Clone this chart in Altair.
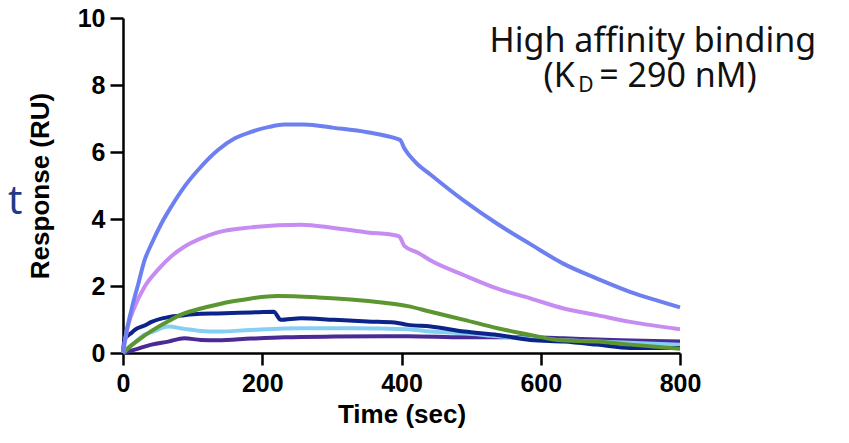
import altair as alt
import pandas as pd

# ---- data (time in sec, response in RU) ----
blue_t = [0, 2, 12, 22, 31, 41, 55, 69, 88, 112, 136, 160, 184, 210, 232, 260, 303, 351, 394, 398, 404, 420, 442, 490, 538, 585, 633, 681, 729, 770, 800]
blue_y = [0, 0.3, 1.28, 2.07, 2.77, 3.26, 3.86, 4.36, 4.96, 5.56, 6.05, 6.40, 6.6, 6.75, 6.82, 6.82, 6.72, 6.59, 6.39, 6.36, 6.11, 5.7, 5.32, 4.54, 3.85, 3.25, 2.66, 2.22, 1.82, 1.55, 1.36]

violet_t = [0, 7, 17, 31, 50, 69, 88, 112, 136, 184, 256, 303, 351, 394, 398, 404, 423, 442, 490, 538, 585, 633, 681, 729, 800]
violet_y = [0, 0.79, 1.39, 1.98, 2.48, 2.88, 3.17, 3.42, 3.6, 3.75, 3.83, 3.73, 3.6, 3.5, 3.45, 3.2, 3.0, 2.76, 2.32, 1.92, 1.63, 1.33, 1.13, 0.93, 0.71]

green_t = [0, 5, 21, 41, 65, 88, 112, 136, 160, 184, 222, 280, 327, 375, 409, 442, 490, 538, 585, 624, 681, 729, 800]
green_y = [0, 0.1, 0.37, 0.66, 0.95, 1.18, 1.33, 1.45, 1.55, 1.63, 1.70, 1.66, 1.60, 1.50, 1.40, 1.23, 0.99, 0.74, 0.54, 0.39, 0.34, 0.25, 0.13]

navy_t = [0, 2, 12, 17, 31, 41, 65, 88, 112, 136, 184, 217, 222, 226, 256, 303, 351, 390, 409, 442, 490, 538, 585, 633, 681, 729, 800]
navy_y = [0, 0.39, 0.6, 0.69, 0.82, 0.93, 1.07, 1.13, 1.17, 1.18, 1.21, 1.23, 1.1, 0.99, 1.04, 0.99, 0.94, 0.91, 0.84, 0.79, 0.64, 0.54, 0.39, 0.34, 0.25, 0.15, 0.15]

lightblue_t = [0, 10, 21, 31, 41, 65, 88, 112, 136, 184, 256, 327, 409, 442, 490, 538, 609, 681, 800]
lightblue_y = [0, 0.2, 0.39, 0.55, 0.62, 0.79, 0.72, 0.66, 0.64, 0.69, 0.74, 0.74, 0.71, 0.64, 0.59, 0.5, 0.4, 0.34, 0.25]

purple_t = [0, 17, 41, 65, 88, 112, 136, 184, 232, 303, 409, 490, 585, 633, 681, 800]
purple_y = [0, 0.1, 0.25, 0.34, 0.44, 0.39, 0.38, 0.43, 0.47, 0.49, 0.5, 0.47, 0.47, 0.44, 0.4, 0.34]

# drawing order: bottom first
series = [
    ("purple", purple_t, purple_y, "#4a2a95"),
    ("lightblue", lightblue_t, lightblue_y, "#86cff2"),
    ("navy", navy_t, navy_y, "#0c2389"),
    ("green", green_t, green_y, "#5c9631"),
    ("violet", violet_t, violet_y, "#c68cf2"),
    ("blue", blue_t, blue_y, "#6e80f0"),
]

x_ticks = [0, 200, 400, 600, 800]
y_ticks = [0, 2, 4, 6, 8, 10]

FONT = "Liberation Sans"
x_scale = alt.Scale(domain=[0, 800], nice=False, zero=False)
y_scale = alt.Scale(domain=[0, 10], nice=False)

x_axis = alt.Axis(values=x_ticks, title="Time (sec)", grid=False, labelFlush=False,
                  domainColor="black", domainWidth=2.5, tickColor="black", tickWidth=2.5, tickSize=12,
                  labelFont=FONT, labelFontSize=25, labelFontWeight="bold", labelColor="black", labelPadding=6,
                  titleFont=FONT, titleFontSize=26, titleFontWeight="bold", titleColor="black", titlePadding=5)
y_axis = alt.Axis(values=y_ticks, title="Response (RU)", grid=False, labelFlush=False,
                  domainColor="black", domainWidth=2.5, tickColor="black", tickWidth=2.5, tickSize=13,
                  labelFont=FONT, labelFontSize=25, labelFontWeight="bold", labelColor="black", labelPadding=5,
                  titleFont=FONT, titleFontSize=26, titleFontWeight="bold", titleColor="black", titlePadding=24)

X = alt.X("t:Q", scale=x_scale, axis=x_axis)
Y = alt.Y("y:Q", scale=y_scale, axis=y_axis)

layers = []
for name, ts, ys, col in series:
    df = pd.DataFrame({"t": ts, "y": ys})
    layers.append(
        alt.Chart(df).mark_line(color=col, strokeWidth=4, interpolate="monotone").encode(x=X, y=Y)
    )

# annotation texts (positioned in data units)
ann = [
    # text, t, y, size, align, color
    ("High affinity binding", 761, 8.98, 34, "center", "#111111"),
    ("(K", 604, 7.94, 34, "left", "#111111"),
    ("D", 654, 7.79, 21, "left", "#111111"),
    ("= 290 nM)", 684, 7.94, 34, "left", "#111111"),
    ("t", -165, 4.14, 40, "left", "#1f3c88"),
]
for text, tx, ty, size, align, col in ann:
    df = pd.DataFrame({"t": [tx], "y": [ty], "label": [text]})
    layers.append(
        alt.Chart(df).mark_text(fontSize=size, align=align, baseline="alphabetic", color=col, font="Noto Sans")
        .encode(x=X, y=Y, text="label:N")
    )

chart = alt.layer(*layers).properties(
    width=557, height=335,
    background="white",
    autosize=alt.AutoSizeParams(type="none"),
    padding={"left": 115, "top": 10, "right": 160, "bottom": 82},
).configure_view(stroke=None, strokeWidth=0)

chart.save("out.html", embed_options={"renderer": "svg", "actions": False})
